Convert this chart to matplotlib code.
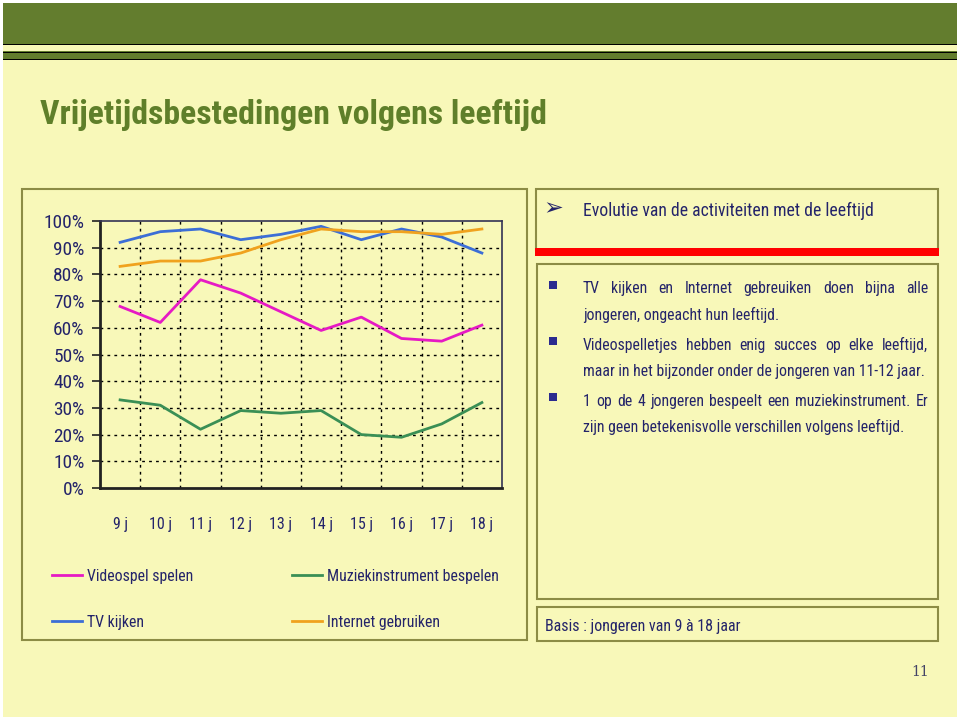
import matplotlib
matplotlib.use("Agg")
import matplotlib.pyplot as plt
from matplotlib.patches import Rectangle
from matplotlib import font_manager as fm

W, H = 960, 720
BG = "#F8F8B9"
GREEN_BAND = "#637D2E"
TITLE_GREEN = "#5F7F2A"
NAVY = "#24246A"
BORDER = "#8C8C45"

# pick the narrowest available sans family
names = {f.name for f in fm.fontManager.ttflist}
COND = "DejaVu Sans"
for p in ["Roboto Condensed", "Liberation Sans Narrow", "DejaVu Sans Condensed", "Liberation Sans"]:
    if p in names:
        COND = p
        break
plt.rcParams['font.family'] = [COND, 'DejaVu Sans']

# ---------------- data ----------------
ages = ["9 j", "10 j", "11 j", "12 j", "13 j", "14 j", "15 j", "16 j", "17 j", "18 j"]
videospel = [68, 62, 78, 73, 66, 59, 64, 56, 55, 61]
muziek = [33, 31, 22, 29, 28, 29, 20, 19, 24, 32]
tv = [92, 96, 97, 93, 95, 98, 93, 97, 94, 88]
internet = [83, 85, 85, 88, 93, 97, 96, 96, 95, 97]
yticks = [0, 10, 20, 30, 40, 50, 60, 70, 80, 90, 100]

series = [
    ("Videospel spelen", videospel, "#E61AC4"),
    ("Muziekinstrument bespelen", muziek, "#3A8F55"),
    ("TV kijken", tv, "#3C6ED6"),
    ("Internet gebruiken", internet, "#F0A21E"),
]

bullet_lines = [
    ["TV kijken en Internet gebreuiken doen bijna alle", "jongeren, ongeacht hun leeftijd."],
    ["Videospelletjes hebben enig succes op elke leeftijd,", "maar in het bijzonder onder de jongeren van 11-12 jaar."],
    ["1 op de 4 jongeren bespeelt een muziekinstrument. Er", "zijn geen betekenisvolle verschillen volgens leeftijd."],
]

fig = plt.figure(figsize=(W / 100, H / 100), dpi=100)
fig.patch.set_facecolor("white")
fig.canvas.draw()
renderer = fig.canvas.get_renderer()

def fx(x):
    return x / W

def fy(y):
    return 1 - y / H

def rect(x0, y0, x1, y1, z=1, **kw):
    r = Rectangle((fx(x0), fy(y1)), (x1 - x0) / W, (y1 - y0) / H,
                  transform=fig.transFigure, figure=fig, zorder=z, **kw)
    fig.add_artist(r)

def width_of(txt, size, **kw):
    t = fig.text(0, 0, txt, fontsize=size, **kw)
    w = t.get_window_extent(renderer).width
    t.remove()
    return w

def fit_size(txt, target, base=20, maxsize=None, **kw):
    s = base * target / width_of(txt, base, **kw)
    if maxsize:
        s = min(s, maxsize)
    return s

# page background
rect(3, 3, 957, 717, z=0, facecolor=BG, edgecolor="none")
# top bands
rect(3, 3, 957, 44, facecolor=GREEN_BAND, edgecolor="none")
rect(3, 44, 957, 45, facecolor="black", edgecolor="none")
rect(3, 51, 957, 60, facecolor=GREEN_BAND, edgecolor="none")
rect(3, 51.5, 957, 52.5, facecolor="black", edgecolor="none")
rect(3, 59, 957, 60, facecolor="black", edgecolor="none")

# title
title = "Vrijetijdsbestedingen volgens leeftijd"
ts = fit_size(title, 505, fontweight="bold", maxsize=31)
fig.text(fx(40), fy(124), title, color=TITLE_GREEN, fontsize=ts, fontweight="bold",
         va="baseline", ha="left")

# boxes
rect(22, 189, 527, 640, z=2, facecolor="none", edgecolor=BORDER, lw=1.5)
rect(536, 189, 938, 250, z=2, facecolor="none", edgecolor=BORDER, lw=1.5)
rect(535, 248, 939, 256, z=3, facecolor="#FF0000", edgecolor="none")
rect(537, 264, 938, 599, z=2, facecolor="none", edgecolor=BORDER, lw=1.5)
rect(537, 607, 938, 641, z=2, facecolor="none", edgecolor=BORDER, lw=1.5)

# ---------------- chart ----------------
L, R, T, B = 100, 502, 221, 488
ax = fig.add_axes([fx(L), fy(B), (R - L) / W, (B - T) / H])
ax.set_zorder(5)
ax.set_facecolor("none")
xs = [i + 0.5 for i in range(len(ages))]
for name, vals, col in series:
    ax.plot(xs, [v / 100 for v in vals], color=col, lw=2, zorder=3)
ax.set_xlim(0, len(ages))
ax.set_ylim(0, 1)
ax.set_yticks([v / 100 for v in yticks])
ax.set_yticklabels([f"{v}%" for v in yticks])
ax.set_xticks(xs)
ax.set_xticklabels(ages)
for v in range(1, len(ages)):
    ax.axvline(v, color="black", lw=1, ls=(0, (2, 3)), zorder=1)
for v in yticks[1:-1]:
    ax.axhline(v / 100, color="black", lw=1, ls=(0, (2, 3)), zorder=1)
ysz = fit_size("100%", 41, maxsize=17)
xsz = fit_size("10 j", 23, maxsize=15)
ax.tick_params(axis="y", direction="out", length=6, width=1.2, colors="#222222",
               labelcolor=NAVY, labelsize=ysz, pad=5)
ax.tick_params(axis="x", length=0, labelcolor=NAVY, labelsize=xsz, pad=21)
for s in ("left", "bottom"):
    ax.spines[s].set_linewidth(2)
    ax.spines[s].set_color("#222222")
for s in ("top", "right"):
    ax.spines[s].set_linewidth(1.2)
    ax.spines[s].set_color("#333355")
    ax.spines[s].set_linestyle((0, (2, 1)))

# legend
lsz = fit_size("Muziekinstrument bespelen", 172, maxsize=17)
leg_pos = [(52, 575), (292, 575), (52, 621), (292, 621)]
for (name, vals, col), (lx, ly) in zip(series, leg_pos):
    fig.add_artist(plt.Line2D([fx(lx), fx(lx + 30)], [fy(ly), fy(ly)], color=col, lw=2,
                              transform=fig.transFigure, zorder=4))
    fig.text(fx(lx + 35), fy(ly + 6), name, color=NAVY, fontsize=lsz, va="baseline", ha="left")

# right header
head = "Evolutie van de activiteiten met de leeftijd"
hsz = fit_size(head, 290, maxsize=17)
fig.text(fx(553), fy(208), "➢", family="DejaVu Sans", color=NAVY, fontsize=17,
         va="center", ha="center")
fig.text(fx(583), fy(216), head, color=NAVY, fontsize=hsz, va="baseline", ha="left")

# bullets with justified first lines
TXT_L, TXT_R = 583, 928
bsz = fit_size(bullet_lines[1][1], 341, maxsize=15)
line_y = [[293, 320], [350, 376], [406, 432]]
bullet_y = [285, 341, 397]
for lines, ys, by in zip(bullet_lines, line_y, bullet_y):
    rect(549, by - 4, 557, by + 4, z=3, facecolor="#2B2B8F", edgecolor="none")
    for k, (ln, y) in enumerate(zip(lines, ys)):
        if k == len(lines) - 1:
            fig.text(fx(TXT_L), fy(y), ln, color=NAVY, fontsize=bsz, va="baseline", ha="left")
        else:
            words = ln.split()
            arts = [fig.text(0, fy(y), w, color=NAVY, fontsize=bsz, va="baseline", ha="left")
                    for w in words]
            widths = [a.get_window_extent(renderer).width for a in arts]
            gap = (TXT_R - TXT_L - sum(widths)) / (len(words) - 1)
            x = TXT_L
            for a, w in zip(arts, widths):
                a.set_x(fx(x))
                x += w + gap

basis = "Basis : jongeren van 9 à 18 jaar"
fig.text(fx(545), fy(631), basis, color=NAVY, fontsize=fit_size(basis, 196, maxsize=17),
         va="baseline", ha="left")
fig.text(fx(920), fy(672), "11", family="DejaVu Serif", color="#444466", fontsize=10,
         va="center", ha="center")

fig.savefig("out.png", dpi=100, facecolor=fig.get_facecolor())
